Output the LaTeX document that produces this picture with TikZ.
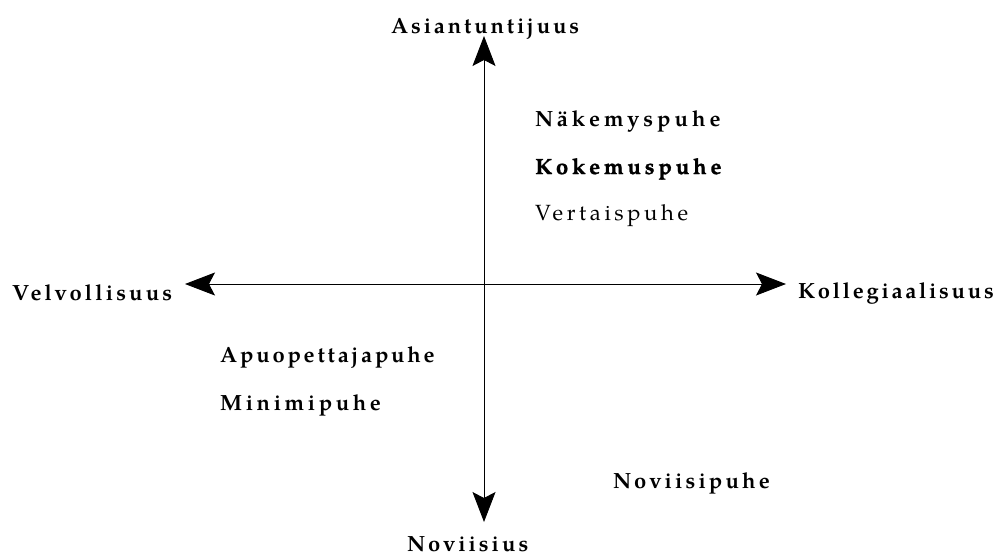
\documentclass[tikz,border=0pt]{standalone}
\usepackage{fontspec}
\setmainfont{texgyrepagella}[Extension=.otf, UprightFont=*-regular, BoldFont=*-bold, ItalicFont=*-italic, BoldItalicFont=*-bolditalic]
\newfontfamily\lblfont{texgyrepagella}[Extension=.otf, UprightFont=*-bold]
\newfontfamily\lblheavy{texgyrepagella}[Extension=.otf, UprightFont=*-bold, FakeBold=1.2]
\newfontfamily\lblreg{texgyrepagella}[Extension=.otf, UprightFont=*-regular]
\usetikzlibrary{arrows.meta}
\tikzset{
  axis/.style={line width=0.9pt, {Stealth[length=30pt,width=23pt,inset=6pt]}-{Stealth[length=30pt,width=23pt,inset=6pt]}},
  lbl/.style={inner sep=0pt, anchor=base west, font=\fontsize{22}{26}\lblfont\addfontfeature{LetterSpace=#1}},
  lblh/.style={inner sep=0pt, anchor=base west, font=\fontsize{22}{26}\lblheavy\addfontfeature{LetterSpace=#1}},
  lblr/.style={inner sep=0pt, anchor=base west, font=\fontsize{22}{26}\lblreg\addfontfeature{LetterSpace=#1}},
}
\begin{document}
\begin{tikzpicture}[x=1pt,y=-1pt]
\useasboundingbox (0,0) rectangle (1001,555);
\coordinate (top) at (484,36);
\coordinate (bot) at (484,522);
\coordinate (left) at (185,284);
\coordinate (right) at (786,284);
\draw[axis] (bot) -- (top);
\draw[axis] (left) -- (right);
\node[lbl=13] (asi) at (391,33) {Asiantuntijuus};
\node[lbl=13.7] (nov) at (407,551) {Noviisius};
\node[lbl=14.2] (vel) at (12,300) {Velvollisuus};
\node[lbl=12.4] (kol) at (798,298) {Kollegiaalisuus};
\node[lbl=18.3] (nak) at (535,126) {Näkemyspuhe};
\node[lblh=17.7] (kok) at (535,174) {Kokemuspuhe};
\node[lblr=16.4] (ver) at (535,220) {Vertaispuhe};
\node[lbl=12.6] (apu) at (220,362) {Apuopettajapuhe};
\node[lbl=16.4] (min) at (220,410) {Minimipuhe};
\node[lbl=14.3] (novp) at (613,488) {Noviisipuhe};
\end{tikzpicture}
\end{document}
